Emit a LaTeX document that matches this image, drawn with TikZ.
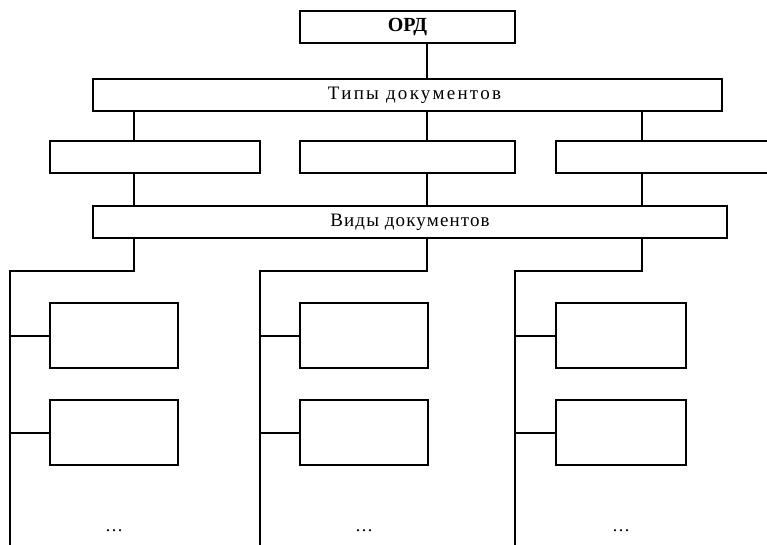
\documentclass[tikz,border=0pt]{standalone}
\usepackage{fontspec}
\setmainfont{Liberation Serif}
\usetikzlibrary{
  positioning,
  calc,
}
\tikzset{
  docbox/.style={
    rectangle, draw, line width=2pt, inner sep=0pt,
    minimum height=32pt,
    font=\fontsize{19}{21}\selectfont\addfontfeature{LetterSpace=6}
  },
  kindbox/.style={
    rectangle, draw, line width=2pt, inner sep=0pt,
    minimum width=128pt, minimum height=65pt
  },
  link/.style={line width=2pt},
  dotlabel/.style={font=\fontsize{18}{20}\selectfont, inner sep=0pt},
}

\begin{document}
\begin{tikzpicture}[x=1pt, y=-1pt, node distance=34pt]

  \useasboundingbox (0,0) rectangle (767,545);
  \clip (0,0) rectangle (767,545);

  % ── Top: ORD and document types ──
  \node[docbox, minimum width=215pt, font=\fontsize{20}{22}\selectfont\bfseries] (ord) at (407.5,27) {ОРД};
  \node[docbox, minimum width=629pt, below=of ord,
        font=\fontsize{19}{21}\selectfont\addfontfeature{LetterSpace=12}] (types) {\hspace{14pt}Типы документов};

  % ── Row of empty type boxes ──
  \node[docbox, minimum width=210pt] (t1) at (155,157) {};
  \node[docbox, minimum width=215pt] (t2) at (407.5,157) {};
  \node[docbox, minimum width=215pt] (t3) at (663.5,157) {};

  % ── Kinds of documents ──
  \node[docbox, minimum width=634pt] (vidy) at (410,222) {Виды документов};

  % ── Column positions and trunk ends ──
  \coordinate (c1) at (134,0);
  \coordinate (c2) at (427,0);
  \coordinate (c3) at (642,0);
  \coordinate (e1) at (10,271);
  \coordinate (e2) at (260,271);
  \coordinate (e3) at (515,271);
  \coordinate (b1) at (10,550);
  \coordinate (b2) at (260,550);
  \coordinate (b3) at (515,550);

  % ── Lower boxes ──
  \node[kindbox] (k11) at (114,335.5) {};
  \node[kindbox] (k12) at (114,432.5) {};
  \node[kindbox] (k21) at (364,335.5) {};
  \node[kindbox] (k22) at (364,432.5) {};
  \node[kindbox, minimum width=130pt] (k31) at (621,335.5) {};
  \node[kindbox, minimum width=130pt] (k32) at (621,432.5) {};

  % ── Dots ──
  \foreach \i in {1,2,3} {
    \node[dotlabel] (d\i) at ($(k\i2.center)+(0,98)$) {\dots};
  }

  % ── Connectors ──
  \draw[link] (ord.south -| c2) -- (types.north -| c2);
  \foreach \i in {1,2,3} {
    \draw[link] (types.south -| c\i) -- (t\i.north -| c\i);
    \draw[link] (t\i.south -| c\i) -- (vidy.north -| c\i);
    \draw[link] (vidy.south -| c\i) |- (e\i) -- (b\i);
    \draw[link] (k\i1.west -| e\i) -- (k\i1.west);
    \draw[link] (k\i2.west -| e\i) -- (k\i2.west);
  }

\end{tikzpicture}
\end{document}
